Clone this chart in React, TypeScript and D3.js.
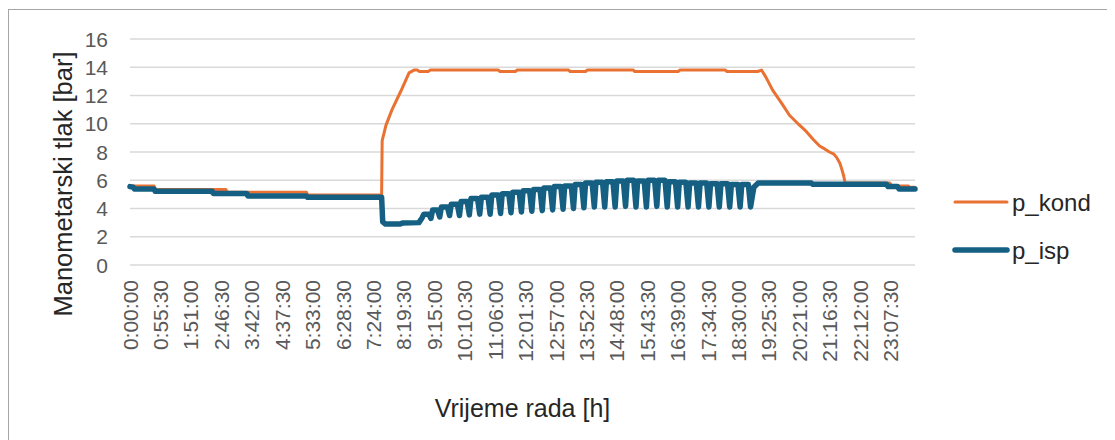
import React from "react";
import * as d3 from "d3";

// ---- data (time in minutes from 0:00:00, pressure in bar) ----
const xTickLabels = [
  "0:00:00", "0:55:30", "1:51:00", "2:46:30", "3:42:00", "4:37:30", "5:33:00", "6:28:30",
  "7:24:00", "8:19:30", "9:15:00", "10:10:30", "11:06:00", "12:01:30", "12:57:00", "13:52:30",
  "14:48:00", "15:43:30", "16:39:00", "17:34:30", "18:30:00", "19:25:30", "20:21:00", "21:16:30",
  "22:12:00", "23:07:30",
];
const yTicks = [0, 2, 4, 6, 8, 10, 12, 14, 16];
const timeEnd = 1432;

const pKond: [number, number][] = [
  [0, 5.6], [44, 5.6], [46, 5.35], [175, 5.35], [177, 5.15], [322, 5.15], [324, 4.95], [459, 4.95],
  [460, 8.8], [467, 9.9], [478, 11.0], [494, 12.3], [509, 13.6], [518, 13.8], [524, 13.8], [528, 13.7],
  [544, 13.7], [548, 13.8], [672, 13.8], [675, 13.7], [703, 13.7], [706, 13.8], [800, 13.8], [803, 13.7],
  [831, 13.7], [834, 13.8], [918, 13.8], [921, 13.7], [1000, 13.7], [1003, 13.8], [1086, 13.8], [1089, 13.7],
  [1145, 13.7], [1152, 13.8], [1160, 13.3], [1172, 12.4], [1188, 11.5], [1203, 10.6], [1220, 9.95], [1234, 9.44],
  [1246, 8.9], [1258, 8.42], [1268, 8.2], [1276, 8.0], [1284, 7.85], [1289, 7.62], [1295, 7.2], [1298, 6.84],
  [1302, 6.3], [1304, 5.9], [1306, 5.8], [1386, 5.8], [1390, 5.6], [1420, 5.6], [1422, 5.5], [1432, 5.5],
];

const pIsp: [number, number][] = [
  [0, 5.55], [6, 5.5], [8, 5.38], [44, 5.38], [46, 5.22], [150, 5.22], [152, 5.07], [213, 5.07],
  [215, 4.88], [322, 4.88], [324, 4.79], [459, 4.79], [461, 3.05], [466, 2.9], [492, 2.9], [498, 2.98],
  [527, 3.0], [533, 3.35],
  [536, 3.6], [545, 3.6], [549, 3.3],
  [552, 3.9], [561, 3.9], [565, 3.4],
  [568, 4.1], [579, 4.1], [583, 3.5],
  [586, 4.3], [597, 4.3], [601, 3.5],
  [604, 4.5], [615, 4.5], [619, 3.55],
  [622, 4.7], [634, 4.7], [638, 3.6],
  [641, 4.8], [653, 4.8], [657, 3.6],
  [660, 4.95], [672, 4.95], [676, 3.65],
  [679, 5.05], [691, 5.05], [695, 3.7],
  [698, 5.15], [710, 5.15], [714, 3.75],
  [717, 5.25], [729, 5.25], [733, 3.8],
  [736, 5.35], [748, 5.35], [752, 3.85],
  [755, 5.45], [767, 5.45], [771, 3.9],
  [774, 5.55], [786, 5.55], [790, 3.95],
  [793, 5.6], [805, 5.6], [809, 4.0],
  [812, 5.7], [824, 5.7], [828, 4.05],
  [831, 5.8], [843, 5.8], [847, 4.1],
  [850, 5.85], [862, 5.85], [866, 4.1],
  [869, 5.9], [881, 5.9], [885, 4.1],
  [888, 5.95], [900, 5.95], [904, 4.15],
  [907, 6.0], [919, 6.0], [923, 4.1],
  [926, 5.95], [938, 5.95], [942, 4.1],
  [945, 6.0], [957, 6.0], [961, 4.15],
  [964, 6.0], [976, 6.0], [980, 4.1],
  [983, 5.9], [995, 5.9], [999, 4.1],
  [1002, 5.85], [1014, 5.85], [1018, 4.1],
  [1021, 5.8], [1033, 5.8], [1037, 4.1],
  [1040, 5.8], [1052, 5.8], [1056, 4.1],
  [1059, 5.75], [1071, 5.75], [1075, 4.1],
  [1078, 5.75], [1090, 5.75], [1094, 4.1],
  [1097, 5.7], [1109, 5.7], [1113, 4.1],
  [1116, 5.7], [1128, 5.7], [1132, 4.1],
  [1138, 5.5], [1146, 5.8], [1243, 5.8], [1245, 5.72], [1380, 5.72], [1383, 5.55], [1400, 5.55],
  [1403, 5.38], [1432, 5.38],
];

const seriesNames = ["p_kond", "p_isp"];
const seriesColors = ["#E97132", "#156082"];
const seriesWidths = [3, 5.5];

// ---- layout ----
const W = 1107;
const H = 432;
const plot = { left: 122, right: 907, top: 31, bottom: 257 };
const FONT = "'Liberation Sans', Arial, sans-serif";

function parseHMS(s: string): number {
  const [h, m, sec] = s.split(":").map(Number);
  return h * 60 + m + sec / 60;
}

export default function App() {
  const x = d3.scaleLinear().domain([0, timeEnd]).range([plot.left, plot.right]);
  const y = d3.scaleLinear().domain([0, 16]).range([plot.bottom, plot.top]);
  const line = d3
    .line<[number, number]>()
    .x((d) => x(d[0]))
    .y((d) => y(d[1]));

  const data = [pKond, pIsp];

  return (
    <svg width={W} height={H} style={{ display: "block", fontFamily: FONT }}>
      <rect x={0.5} y={1.5} width={W + 20} height={H + 20} fill="#fff" stroke="#A6A6A6" strokeWidth={1} />
      {yTicks.map((t) => (
        <g key={t}>
          <line x1={plot.left} x2={plot.right} y1={y(t)} y2={y(t)} stroke="#D9D9D9" strokeWidth={1.5} />
          <text x={plot.left - 22} y={y(t)} dy="0.36em" textAnchor="end" fontSize={21} fill="#595959">
            {t}
          </text>
        </g>
      ))}
      {xTickLabels.map((lab) => {
        const px = x(parseHMS(lab));
        return (
          <text
            key={lab}
            transform={`translate(${px},${plot.bottom + 15}) rotate(-90)`}
            dy="0.36em"
            textAnchor="end"
            fontSize={21}
            fill="#595959"
          >
            {lab}
          </text>
        );
      })}
      {data.map((d, i) => (
        <path
          key={i}
          d={line(d) ?? ""}
          fill="none"
          stroke={seriesColors[i]}
          strokeWidth={seriesWidths[i]}
          strokeLinejoin="round"
          strokeLinecap="round"
        />
      ))}
      <text
        transform={`translate(64,${176}) rotate(-90)`}
        textAnchor="middle"
        fontSize={25.5}
        fill="#262626"
      >
        Manometarski tlak [bar]
      </text>
      <text x={(plot.left + plot.right) / 2} y={409} textAnchor="middle" fontSize={25} fill="#262626">
        Vrijeme rada [h]
      </text>
      {seriesNames.map((n, i) => (
        <g key={n} transform={`translate(947,${194 + i * 48})`}>
          <line x1={0} x2={52} y1={0} y2={0} stroke={seriesColors[i]} strokeWidth={seriesWidths[i]} strokeLinecap="round" />
          <text x={57} y={0} dy="0.36em" fontSize={24} fill="#262626">
            {n}
          </text>
        </g>
      ))}
    </svg>
  );
}
